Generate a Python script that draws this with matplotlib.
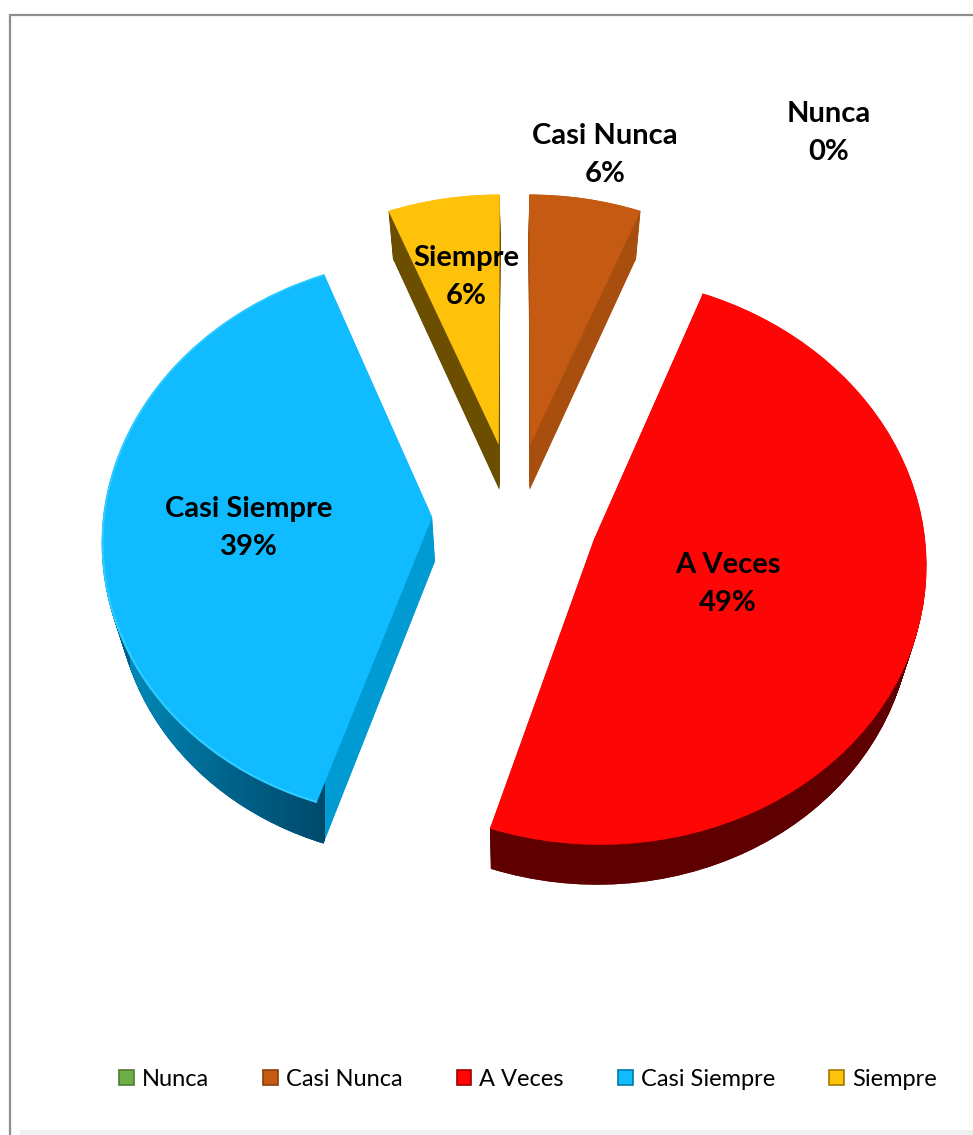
import numpy as np
import matplotlib
matplotlib.use("Agg")
import matplotlib.pyplot as plt
from matplotlib.transforms import Transform
from matplotlib.patches import Patch, Rectangle
from matplotlib.lines import Line2D
from matplotlib.colors import LinearSegmentedColormap

W, H = 973, 1135

categories = ["Nunca", "Casi Nunca", "A Veces", "Casi Siempre", "Siempre"]
values = [0, 6, 49, 39, 6]
explode = [0.26, 0.26, 0.255, 0.25, 0.26]
top_colors = ["#6FAD47", "#C55B13", "#FF0606", "#10BBFF", "#FFC20A"]
rim_colors = ["#6FAD47", "#C55B13", "#FF0606", "#30CCFF", "#FFC20A"]
side_colors = ["#4F7C32", "#A84E0F", "#5F0000", "#009BD3", "#6B4E00"]
wall_colors = ["#3F6328", "#A84E0F", "#5F0000", "#005F86", "#6B4E00"]
legend_edges = ["#4F7C32", "#8A400C", "#A00000", "#0079A8", "#A07A00"]
label_pos = [(829, 133), (605, 155), (728, 584), (249, 528), (466, 277)]


class Persp(Transform):
    """Tilted-disc projection of a unit pie into figure pixels."""
    input_dims = 2
    output_dims = 2
    is_separable = False
    has_inverse = False

    def __init__(self, d=0.0, D=44.0):
        super().__init__()
        self.d, self.D = d, D

    def transform_non_affine(self, xy):
        xy = np.asarray(xy, float)
        u, v = xy[:, 0], xy[:, 1]
        w = 1 + 0.074 * v
        f = self.d / self.D
        sx, sy = 1 - 0.035 * f, 1 - 0.012 * f
        X = 514.5 + 329 * sx * u / w
        Y = 515 - 279 * sy * v / w + self.d
        return np.column_stack([X, Y])


fig = plt.figure(figsize=(W / 100, H / 100), dpi=100, facecolor="white")
ax = fig.add_axes([0, 0, 1, 1])


def draw_layer(colors, zorder, d=0.0, width=None):
    wp = {"linewidth": 0}
    if width is not None:
        wp["width"] = width
    wedges, _ = ax.pie(values, explode=explode, colors=colors, startangle=90,
                       counterclock=False, radius=1, frame=True, wedgeprops=wp)
    for wd in wedges:
        wd.set_transform(Persp(d) + ax.transData)
        wd.set_zorder(zorder)
        wd.set_clip_on(False)
    return wedges


DEPTH = 44
for i, d in enumerate(range(DEPTH, 0, -1)):
    bottom_layer = draw_layer(side_colors, 1 + i * 0.001, d)
    if i == 0:
        blue_bottom = bottom_layer[categories.index("Casi Siempre")]
for i, d in enumerate(range(DEPTH, 0, -1)):
    draw_layer(wall_colors, 2 + i * 0.001, d, width=0.012)
draw_layer(top_colors, 3)
draw_layer(rim_colors, 3.1, 0, width=0.006)

# darkening of the blue outer wall toward its front corner
wall_cmap = LinearSegmentedColormap.from_list("wall", ["#0088B8", "#00648C", "#004A6C"])
grad = ax.imshow(np.linspace(0, 1, 256)[None, :], extent=(130, 325, 900, 500),
                 cmap=wall_cmap, aspect="auto", zorder=2.5)
grad.set_clip_path(blue_bottom.get_path(), blue_bottom.get_transform())

ax.set_xlim(0, W)
ax.set_ylim(H, 0)
ax.set_aspect("auto")
ax.axis("off")

for name, val, (x, y) in zip(categories, values, label_pos):
    ax.text(x, y, f"{name}\n{val}%", ha="center", va="center", family="Lato",
            fontweight="bold", fontsize=21, linespacing=1.58, color="black", zorder=5)

# chart-area frame
fig.add_artist(Line2D([10 / W, 10 / W, 1], [0, 1 - 15 / H, 1 - 15 / H],
                      color="#8E8E8E", lw=1.6, solid_joinstyle="miter"))
fig.add_artist(Rectangle((20 / W, 0), 1, 5 / H, transform=fig.transFigure,
                         facecolor="#F0F0F0", edgecolor="none"))

handles = [Patch(facecolor=c, edgecolor=e, linewidth=1.2, label=n)
           for c, e, n in zip(top_colors, legend_edges, categories)]
fig.legend(handles=handles, ncol=5, frameon=False, loc="center left",
           bbox_to_anchor=(119 / W, 1 - 1079 / H), borderpad=0, borderaxespad=0,
           handlelength=0.62, handleheight=0.62, handletextpad=0.34,
           columnspacing=2.3, prop={"family": "Lato", "size": 17})

fig.savefig("out.png", dpi=100)
